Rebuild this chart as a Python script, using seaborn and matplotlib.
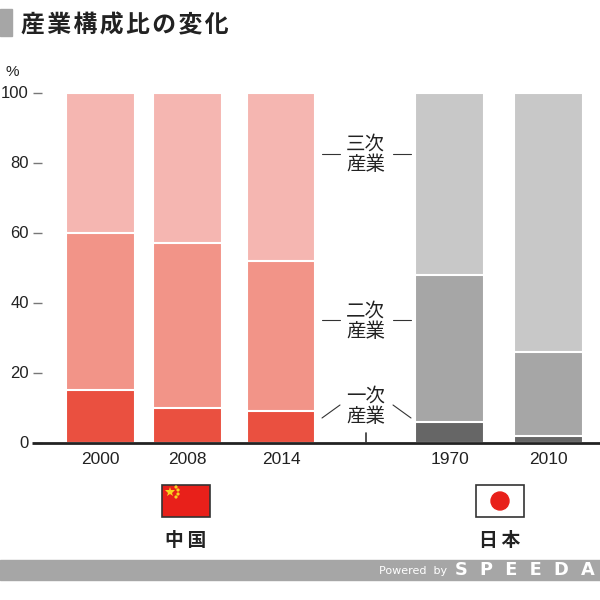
import matplotlib
matplotlib.use("Agg")
import matplotlib.pyplot as plt
from matplotlib.patches import Rectangle, Circle
import seaborn as sns
import pandas as pd

# data
years = ["2000", "2008", "2014", "1970", "2010"]
primary = [15, 10, 9, 6, 2]
secondary = [45, 47, 43, 42, 24]
tertiary = [40, 43, 48, 52, 74]
bar_pos = [100.5, 187.5, 281, 449.5, 548.5]
y_ticks = [0, 20, 40, 60, 80, 100]

red_cols = ["#ea5040", "#f29488", "#f5b6b1"]
gray_cols = ["#666666", "#a6a6a6", "#c8c8c8"]

df = pd.DataFrame({"year": years, "pos": bar_pos, "p": primary, "s": secondary, "t": tertiary})
df["top1"] = df["p"]
df["top2"] = df["p"] + df["s"]
df["top3"] = df["top2"] + df["t"]

sns.set_style("white")
plt.rcParams["font.family"] = ["Liberation Sans", "DejaVu Sans"]
cjk = ["Noto Sans CJK JP", "DejaVu Sans"]

fig = plt.figure(figsize=(6, 6), dpi=100)
ax = fig.add_axes([0, 1 - 442.5 / 600, 1, 350 / 600])

# stacked bars, tallest first so the lower ones sit on top
for col, i in [("top3", 2), ("top2", 1), ("top1", 0)]:
    pal = {y: (red_cols[i] if n < 3 else gray_cols[i]) for n, y in enumerate(years)}
    sns.barplot(data=df, x="pos", y=col, hue="year", palette=pal, native_scale=True,
                dodge=False, width=68.5 / 87, legend=False, edgecolor="white",
                linewidth=1.5, saturation=1, ax=ax)

ax.set_xlim(0, 600)
ax.set_ylim(0, 100)
ax.set_xlabel("")
ax.set_ylabel("")
ax.set_xticks([])
ax.set_yticks(y_ticks)
ax.patch.set_alpha(0)
for s in ["top", "right", "left", "bottom"]:
    ax.spines[s].set_visible(False)
ax.spines["left"].set_position(("data", 42))
ax.tick_params(axis="y", left=True, length=6.5, width=1, color="#777777", pad=3,
               labelsize=12, labelcolor="#222222")
ax.plot([32, 600], [0, 0], color="#222222", lw=2, clip_on=False, zorder=5, solid_capstyle="butt")


def px(x, y):
    return x / 600, 1 - y / 600


for x, y in zip(bar_pos, years):
    fig.text(*px(x, 459), y, fontsize=12.5, ha="center", va="center", color="#222222")

fig.text(*px(12, 72), "%", fontsize=11, ha="center", va="center", color="#222222")

# title
fig.patches.append(Rectangle(px(0, 36), 12 / 600, 27 / 600, transform=fig.transFigure, color="#a6a6a6"))
fig.text(*px(21, 25), "\u200a".join("産業構成比の変化"), fontsize=17.2, fontweight="bold",
         ha="left", va="center", color="#222222", family=cjk)

# labels between the two groups
for label, cy, y0, y1 in [("三次\n産業", 153, 154, 154), ("二次\n産業", 320, 320, 320), ("一次\n産業", 405, 418, 405)]:
    fig.text(*px(365.5, cy + 1), label, fontsize=14, ha="center", va="center", color="#222222",
             family=cjk, linespacing=0.95)
    fig.add_artist(plt.Line2D([322 / 600, 340 / 600], [1 - y0 / 600, 1 - y1 / 600], color="#333333", lw=0.8))
    fig.add_artist(plt.Line2D([393 / 600, 411 / 600], [1 - y1 / 600, 1 - y0 / 600], color="#333333", lw=0.8))
fig.add_artist(plt.Line2D([365.5 / 600] * 2, [1 - 433 / 600, 1 - 442 / 600], color="#333333", lw=1.2))

# flags
fig.patches.append(Rectangle(px(162, 517), 48 / 600, 32 / 600, transform=fig.transFigure,
                             facecolor="#e8201a", edgecolor="#333333", lw=1.2))
fig.add_artist(plt.Line2D([170 / 600], [1 - 492 / 600], marker="*", ms=7, mew=0, color="#f7d520"))
for sx, sy in [(176, 487), (178, 490), (178, 494), (176, 497)]:
    fig.patches.append(Circle(px(sx, sy), 0.9 / 600, transform=fig.transFigure, color="#f7d520"))
fig.patches.append(Rectangle(px(476, 517), 48 / 600, 32 / 600, transform=fig.transFigure,
                             facecolor="white", edgecolor="#333333", lw=1.2))
fig.patches.append(Circle(px(500, 501), 9 / 600, transform=fig.transFigure, color="#e8201a"))

fig.text(*px(186, 540), "中\u2009国", fontsize=13.5, fontweight="bold", ha="center", va="center", color="#222222", family=cjk)
fig.text(*px(500, 540), "日\u2009本", fontsize=13.5, fontweight="bold", ha="center", va="center", color="#222222", family=cjk)

# footer
fig.patches.append(Rectangle(px(0, 580), 1, 20 / 600, transform=fig.transFigure, color="#a6a6a6"))
fig.text(*px(447, 571), "Powered  by", fontsize=8, ha="right", va="center", color="white", family="DejaVu Sans")
fig.text(*px(455, 570), "S  P  E  E  D  A", fontsize=12.8, fontweight="bold", ha="left", va="center", color="white",
         family="DejaVu Sans")

fig.savefig("out.png", dpi=100)
